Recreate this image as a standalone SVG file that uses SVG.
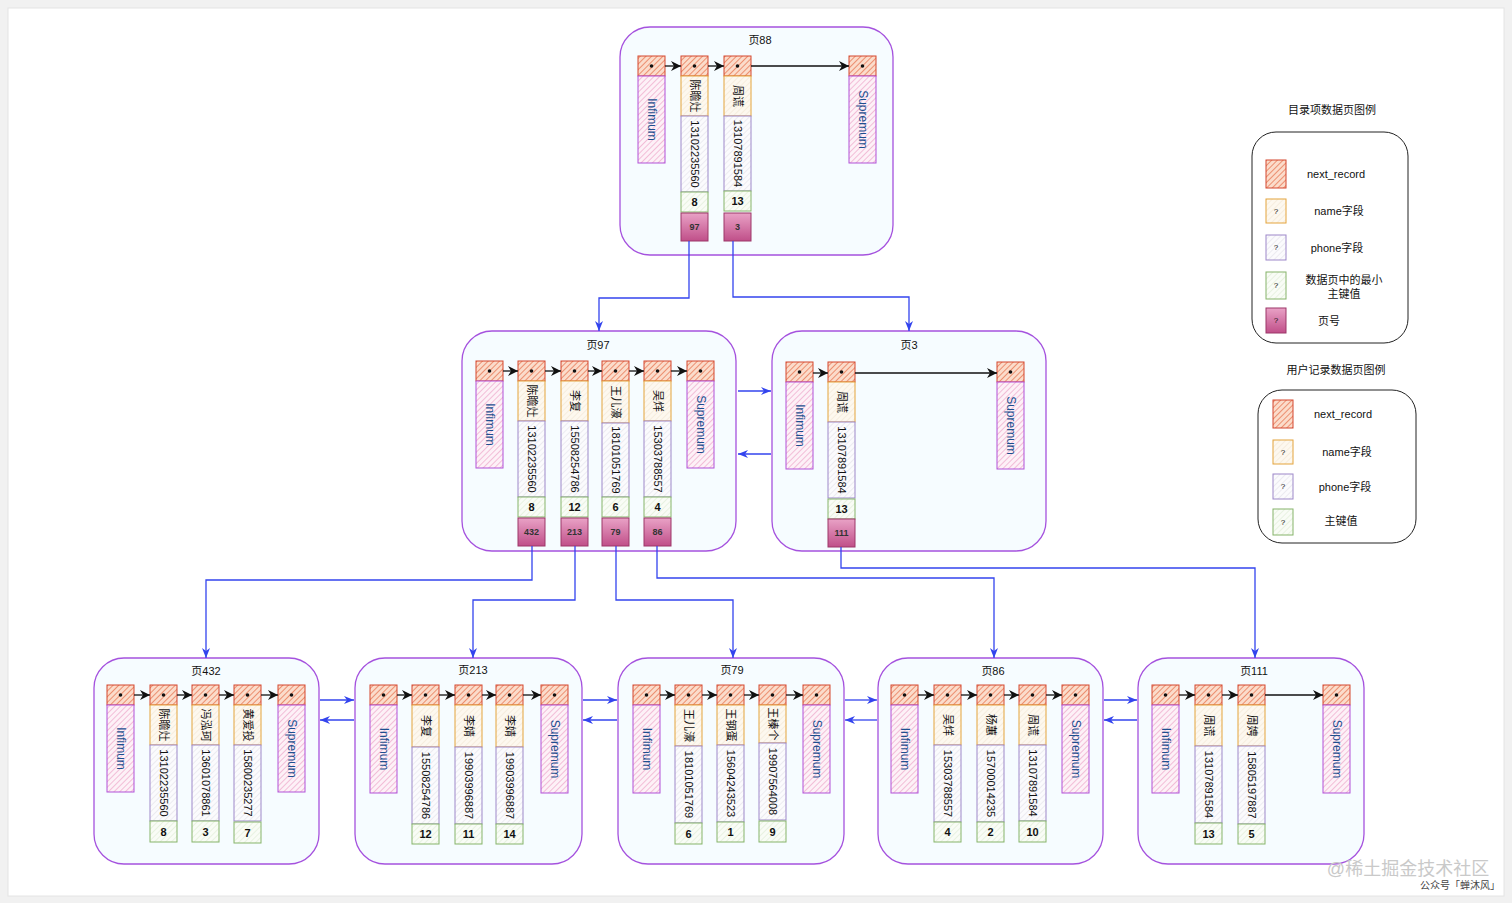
<svg xmlns="http://www.w3.org/2000/svg" width="1512" height="903" viewBox="0 0 1512 903">
<defs>
<pattern id="hRed" patternUnits="userSpaceOnUse" width="4" height="4" patternTransform="rotate(45)"><rect width="4" height="4" fill="#fbdccb"/><line x1="0" y1="0" x2="0" y2="4" stroke="#e4653f" stroke-width="1.3"/></pattern>
<pattern id="hPink" patternUnits="userSpaceOnUse" width="4" height="4" patternTransform="rotate(45)"><rect width="4" height="4" fill="#fdf1f7"/><line x1="0" y1="0" x2="0" y2="4" stroke="#e88ab8" stroke-width="1"/></pattern>
<pattern id="hOra" patternUnits="userSpaceOnUse" width="4" height="4" patternTransform="rotate(45)"><rect width="4" height="4" fill="#fdf8ef"/><line x1="0" y1="0" x2="0" y2="4" stroke="#efe2cd" stroke-width="1"/></pattern>
<pattern id="hGry" patternUnits="userSpaceOnUse" width="4" height="4" patternTransform="rotate(45)"><rect width="4" height="4" fill="#fbfbfd"/><line x1="0" y1="0" x2="0" y2="4" stroke="#dedbe6" stroke-width="1"/></pattern>
<pattern id="hGrn" patternUnits="userSpaceOnUse" width="4" height="4" patternTransform="rotate(45)"><rect width="4" height="4" fill="#f9fcf6"/><line x1="0" y1="0" x2="0" y2="4" stroke="#d8e8cc" stroke-width="1"/></pattern>
<linearGradient id="gPn" x1="0" y1="0" x2="0" y2="1"><stop offset="0" stop-color="#e9a2c6"/><stop offset="1" stop-color="#c04f89"/></linearGradient>
<marker id="ab" markerUnits="userSpaceOnUse" markerWidth="10" markerHeight="10" refX="10" refY="5" orient="auto"><path d="M0,0 L10,5 L0,10 L3,5 z" fill="#111"/></marker>
<marker id="au" markerUnits="userSpaceOnUse" markerWidth="10" markerHeight="10" refX="10" refY="5" orient="auto"><path d="M0,1 L10,5 L0,9 L3,5 z" fill="#3344ee"/></marker>
<style>
text{font-family:"Liberation Sans","Noto Sans CJK SC",sans-serif;}
.pg{fill:#f6fcff;stroke:#a552de;stroke-width:1.3}
.hd{fill:url(#hRed);stroke:#d4472e;stroke-width:1}
.inf{fill:url(#hPink);stroke:#b150d8;stroke-width:1}
.nm{fill:url(#hOra);stroke:#e4a43c;stroke-width:1}
.ph{fill:url(#hGry);stroke:#9d88c9;stroke-width:1}
.ky{fill:url(#hGrn);stroke:#86b46a;stroke-width:1}
.pn{fill:url(#gPn);stroke:#9c3668;stroke-width:1}
.dot{fill:#111}
.ttl{font-size:11px;text-anchor:middle;fill:#111}
.v{font-size:11px;text-anchor:middle;dominant-baseline:central;fill:#111}
.iv{font-size:12px;text-anchor:middle;dominant-baseline:central;fill:#1d4f8f}
.k{font-size:11px;font-weight:bold;text-anchor:middle;dominant-baseline:central;fill:#111}
.p{font-size:9px;font-weight:bold;text-anchor:middle;dominant-baseline:central;fill:#333}
.lt{font-size:11px;text-anchor:middle;fill:#111}
.lg{fill:#fff;stroke:#222;stroke-width:1}
.q{font-size:8px;text-anchor:middle;dominant-baseline:central;fill:#111}
.ba{fill:none;stroke:#111;stroke-width:1.3;marker-end:url(#ab)}
.bu{fill:none;stroke:#3344ee;stroke-width:1.3;marker-end:url(#au)}
</style>
</defs>
<rect x="0" y="0" width="1512" height="903" fill="#f1f1f1"/>
<rect x="8" y="8" width="1496" height="888" fill="#ffffff" stroke="#e4e4e4"/>

<!-- Page 88 -->
<g id="page88">
<rect class="pg" x="620" y="27" width="273" height="228" rx="30"/>
<text class="ttl" x="760" y="44">页88</text>
<rect class="hd" x="638" y="56" width="27" height="20"/><circle class="dot" cx="651.5" cy="66" r="1.8"/>
<rect class="inf" x="638" y="76" width="27" height="87"/><text class="iv" transform="translate(651.5,119.5) rotate(90)">Infimum</text>
<rect class="hd" x="681" y="56" width="27" height="20"/><circle class="dot" cx="694.5" cy="66" r="1.8"/>
<rect class="nm" x="681" y="76" width="27" height="40"/><text class="v" transform="translate(694.5,96) rotate(90)">陈瞻灶</text>
<rect class="ph" x="681" y="116" width="27" height="76"/><text class="v" transform="translate(694.5,154) rotate(90)">13102235560</text>
<rect class="ky" x="681" y="192" width="27" height="20"/><text class="k" x="694.5" y="202">8</text>
<rect class="pn" x="681" y="213" width="27" height="28"/><text class="p" x="694.5" y="227">97</text>
<rect class="hd" x="724" y="56" width="27" height="20"/><circle class="dot" cx="737.5" cy="66" r="1.8"/>
<rect class="nm" x="724" y="76" width="27" height="40"/><text class="v" transform="translate(737.5,96) rotate(90)">周谎</text>
<rect class="ph" x="724" y="116" width="27" height="75"/><text class="v" transform="translate(737.5,153.5) rotate(90)">13107891584</text>
<rect class="ky" x="724" y="191" width="27" height="20"/><text class="k" x="737.5" y="201">13</text>
<rect class="pn" x="724" y="213" width="27" height="28"/><text class="p" x="737.5" y="227">3</text>
<rect class="hd" x="849" y="56" width="27" height="20"/><circle class="dot" cx="862.5" cy="66" r="1.8"/>
<rect class="inf" x="849" y="76" width="27" height="87"/><text class="iv" transform="translate(862.5,119.5) rotate(90)">Supremum</text>
<path class="ba" d="M665,66 H681"/><path class="ba" d="M708,66 H724"/><path class="ba" d="M751,66 H849"/>
</g>

<!-- Page 97 -->
<g id="page97">
<rect class="pg" x="462" y="331" width="274" height="220" rx="30"/>
<text class="ttl" x="598" y="349">页97</text>
<rect class="hd" x="476" y="361" width="27" height="20"/><circle class="dot" cx="489.5" cy="371" r="1.8"/>
<rect class="inf" x="476" y="381" width="27" height="87"/><text class="iv" transform="translate(489.5,424.5) rotate(90)">Infimum</text>
<rect class="hd" x="518" y="361" width="27" height="20"/><circle class="dot" cx="531.5" cy="371" r="1.8"/>
<rect class="nm" x="518" y="381" width="27" height="40"/><text class="v" transform="translate(531.5,401) rotate(90)">陈瞻灶</text>
<rect class="ph" x="518" y="421" width="27" height="76"/><text class="v" transform="translate(531.5,459) rotate(90)">13102235560</text>
<rect class="ky" x="518" y="497" width="27" height="20"/><text class="k" x="531.5" y="507">8</text>
<rect class="pn" x="518" y="518" width="27" height="28"/><text class="p" x="531.5" y="532">432</text>
<rect class="hd" x="561" y="361" width="27" height="20"/><circle class="dot" cx="574.5" cy="371" r="1.8"/>
<rect class="nm" x="561" y="381" width="27" height="40"/><text class="v" transform="translate(574.5,401) rotate(90)">李复</text>
<rect class="ph" x="561" y="421" width="27" height="76"/><text class="v" transform="translate(574.5,459) rotate(90)">15508254786</text>
<rect class="ky" x="561" y="497" width="27" height="20"/><text class="k" x="574.5" y="507">12</text>
<rect class="pn" x="561" y="518" width="27" height="28"/><text class="p" x="574.5" y="532">213</text>
<rect class="hd" x="602" y="361" width="27" height="20"/><circle class="dot" cx="615.5" cy="371" r="1.8"/>
<rect class="nm" x="602" y="381" width="27" height="42"/><text class="v" transform="translate(615.5,402) rotate(90)">王儿濠</text>
<rect class="ph" x="602" y="423" width="27" height="74"/><text class="v" transform="translate(615.5,460) rotate(90)">18101051769</text>
<rect class="ky" x="602" y="497" width="27" height="20"/><text class="k" x="615.5" y="507">6</text>
<rect class="pn" x="602" y="518" width="27" height="28"/><text class="p" x="615.5" y="532">79</text>
<rect class="hd" x="644" y="361" width="27" height="20"/><circle class="dot" cx="657.5" cy="371" r="1.8"/>
<rect class="nm" x="644" y="381" width="27" height="40"/><text class="v" transform="translate(657.5,401) rotate(90)">吴烊</text>
<rect class="ph" x="644" y="421" width="27" height="76"/><text class="v" transform="translate(657.5,459) rotate(90)">15303788557</text>
<rect class="ky" x="644" y="497" width="27" height="20"/><text class="k" x="657.5" y="507">4</text>
<rect class="pn" x="644" y="518" width="27" height="28"/><text class="p" x="657.5" y="532">86</text>
<rect class="hd" x="687" y="361" width="27" height="20"/><circle class="dot" cx="700.5" cy="371" r="1.8"/>
<rect class="inf" x="687" y="381" width="27" height="87"/><text class="iv" transform="translate(700.5,424.5) rotate(90)">Supremum</text>
<path class="ba" d="M503,371 H518"/><path class="ba" d="M545,371 H561"/><path class="ba" d="M588,371 H602"/><path class="ba" d="M629,371 H644"/><path class="ba" d="M671,371 H687"/>
</g>

<!-- Page 3 -->
<g id="page3">
<rect class="pg" x="772" y="331" width="274" height="220" rx="30"/>
<text class="ttl" x="909" y="349">页3</text>
<rect class="hd" x="786" y="362" width="27" height="20"/><circle class="dot" cx="799.5" cy="372" r="1.8"/>
<rect class="inf" x="786" y="382" width="27" height="87"/><text class="iv" transform="translate(799.5,425.5) rotate(90)">Infimum</text>
<rect class="hd" x="828" y="362" width="27" height="20"/><circle class="dot" cx="841.5" cy="372" r="1.8"/>
<rect class="nm" x="828" y="382" width="27" height="40"/><text class="v" transform="translate(841.5,402) rotate(90)">周谎</text>
<rect class="ph" x="828" y="422" width="27" height="76"/><text class="v" transform="translate(841.5,460) rotate(90)">13107891584</text>
<rect class="ky" x="828" y="499" width="27" height="20"/><text class="k" x="841.5" y="509">13</text>
<rect class="pn" x="828" y="519" width="27" height="28"/><text class="p" x="841.5" y="533">111</text>
<rect class="hd" x="997" y="362" width="27" height="20"/><circle class="dot" cx="1010.5" cy="372" r="1.8"/>
<rect class="inf" x="997" y="382" width="27" height="87"/><text class="iv" transform="translate(1010.5,425.5) rotate(90)">Supremum</text>
<path class="ba" d="M813,373 H828"/><path class="ba" d="M855,373 H997"/>
</g>

<!-- Page 432 -->
<g id="page432">
<rect class="pg" x="94" y="658" width="225" height="206" rx="30"/>
<text class="ttl" x="206" y="675">页432</text>
<rect class="hd" x="107" y="685" width="27" height="20"/><circle class="dot" cx="120.5" cy="695" r="1.8"/>
<rect class="inf" x="107" y="705" width="27" height="87"/><text class="iv" transform="translate(120.5,748.5) rotate(90)">Infimum</text>
<rect class="hd" x="150" y="685" width="27" height="20"/><circle class="dot" cx="163.5" cy="695" r="1.8"/>
<rect class="nm" x="150" y="705" width="27" height="40"/><text class="v" transform="translate(163.5,725) rotate(90)">陈瞻灶</text>
<rect class="ph" x="150" y="745" width="27" height="76"/><text class="v" transform="translate(163.5,783) rotate(90)">13102235560</text>
<rect class="ky" x="150" y="821" width="27" height="21"/><text class="k" x="163.5" y="831.5">8</text>
<rect class="hd" x="192" y="685" width="27" height="20"/><circle class="dot" cx="205.5" cy="695" r="1.8"/>
<rect class="nm" x="192" y="705" width="27" height="40"/><text class="v" transform="translate(205.5,725) rotate(90)">冯泓珂</text>
<rect class="ph" x="192" y="745" width="27" height="76"/><text class="v" transform="translate(205.5,783) rotate(90)">13601078861</text>
<rect class="ky" x="192" y="821" width="27" height="21"/><text class="k" x="205.5" y="831.5">3</text>
<rect class="hd" x="234" y="685" width="27" height="20"/><circle class="dot" cx="247.5" cy="695" r="1.8"/>
<rect class="nm" x="234" y="705" width="27" height="40"/><text class="v" transform="translate(247.5,725) rotate(90)">黄爱投</text>
<rect class="ph" x="234" y="745" width="27" height="76"/><text class="v" transform="translate(247.5,783) rotate(90)">15800235277</text>
<rect class="ky" x="234" y="822" width="27" height="21"/><text class="k" x="247.5" y="832.5">7</text>
<rect class="hd" x="278" y="685" width="27" height="20"/><circle class="dot" cx="291.5" cy="695" r="1.8"/>
<rect class="inf" x="278" y="705" width="27" height="87"/><text class="iv" transform="translate(291.5,748.5) rotate(90)">Supremum</text>
<path class="ba" d="M134,695 H150"/><path class="ba" d="M177,695 H192"/><path class="ba" d="M219,695 H234"/><path class="ba" d="M261,695 H278"/>
</g>

<!-- Page 213 -->
<g id="page213">
<rect class="pg" x="355" y="658" width="227" height="206" rx="30"/>
<text class="ttl" x="473" y="674">页213</text>
<rect class="hd" x="370" y="685" width="27" height="20"/><circle class="dot" cx="383.5" cy="695" r="1.8"/>
<rect class="inf" x="370" y="705" width="27" height="88"/><text class="iv" transform="translate(383.5,749) rotate(90)">Infimum</text>
<rect class="hd" x="412" y="685" width="27" height="20"/><circle class="dot" cx="425.5" cy="695" r="1.8"/>
<rect class="nm" x="412" y="705" width="27" height="42"/><text class="v" transform="translate(425.5,726) rotate(90)">李复</text>
<rect class="ph" x="412" y="747" width="27" height="77"/><text class="v" transform="translate(425.5,785.5) rotate(90)">15508254786</text>
<rect class="ky" x="412" y="824" width="27" height="20"/><text class="k" x="425.5" y="834">12</text>
<rect class="hd" x="455" y="685" width="27" height="20"/><circle class="dot" cx="468.5" cy="695" r="1.8"/>
<rect class="nm" x="455" y="705" width="27" height="42"/><text class="v" transform="translate(468.5,726) rotate(90)">李婧</text>
<rect class="ph" x="455" y="747" width="27" height="77"/><text class="v" transform="translate(468.5,785.5) rotate(90)">19903996887</text>
<rect class="ky" x="455" y="824" width="27" height="20"/><text class="k" x="468.5" y="834">11</text>
<rect class="hd" x="496" y="685" width="27" height="20"/><circle class="dot" cx="509.5" cy="695" r="1.8"/>
<rect class="nm" x="496" y="705" width="27" height="42"/><text class="v" transform="translate(509.5,726) rotate(90)">李婧</text>
<rect class="ph" x="496" y="747" width="27" height="77"/><text class="v" transform="translate(509.5,785.5) rotate(90)">19903996887</text>
<rect class="ky" x="496" y="824" width="27" height="20"/><text class="k" x="509.5" y="834">14</text>
<rect class="hd" x="541" y="685" width="27" height="20"/><circle class="dot" cx="554.5" cy="695" r="1.8"/>
<rect class="inf" x="541" y="705" width="27" height="88"/><text class="iv" transform="translate(554.5,749) rotate(90)">Supremum</text>
<path class="ba" d="M397,695 H412"/><path class="ba" d="M439,695 H455"/><path class="ba" d="M482,695 H496"/><path class="ba" d="M523,695 H541"/>
</g>

<!-- Page 79 -->
<g id="page79">
<rect class="pg" x="618" y="658" width="226" height="206" rx="30"/>
<text class="ttl" x="732" y="674">页79</text>
<rect class="hd" x="633" y="685" width="27" height="20"/><circle class="dot" cx="646.5" cy="695" r="1.8"/>
<rect class="inf" x="633" y="705" width="27" height="88"/><text class="iv" transform="translate(646.5,749) rotate(90)">Infimum</text>
<rect class="hd" x="675" y="685" width="27" height="20"/><circle class="dot" cx="688.5" cy="695" r="1.8"/>
<rect class="nm" x="675" y="705" width="27" height="41"/><text class="v" transform="translate(688.5,725.5) rotate(90)">王儿濠</text>
<rect class="ph" x="675" y="746" width="27" height="77"/><text class="v" transform="translate(688.5,784.5) rotate(90)">18101051769</text>
<rect class="ky" x="675" y="823" width="27" height="21"/><text class="k" x="688.5" y="833.5">6</text>
<rect class="hd" x="717" y="685" width="27" height="20"/><circle class="dot" cx="730.5" cy="695" r="1.8"/>
<rect class="nm" x="717" y="705" width="27" height="40"/><text class="v" transform="translate(730.5,725) rotate(90)">王钢蛋</text>
<rect class="ph" x="717" y="745" width="27" height="77"/><text class="v" transform="translate(730.5,783.5) rotate(90)">15604243523</text>
<rect class="ky" x="717" y="822" width="27" height="20"/><text class="k" x="730.5" y="832">1</text>
<rect class="hd" x="759" y="685" width="27" height="20"/><circle class="dot" cx="772.5" cy="695" r="1.8"/>
<rect class="nm" x="759" y="705" width="27" height="38"/><text class="v" transform="translate(772.5,724) rotate(90)">王榛个</text>
<rect class="ph" x="759" y="743" width="27" height="77"/><text class="v" transform="translate(772.5,781.5) rotate(90)">19907564008</text>
<rect class="ky" x="759" y="821" width="27" height="21"/><text class="k" x="772.5" y="831.5">9</text>
<rect class="hd" x="803" y="685" width="27" height="20"/><circle class="dot" cx="816.5" cy="695" r="1.8"/>
<rect class="inf" x="803" y="705" width="27" height="88"/><text class="iv" transform="translate(816.5,749) rotate(90)">Supremum</text>
<path class="ba" d="M660,695 H675"/><path class="ba" d="M702,695 H717"/><path class="ba" d="M744,695 H759"/><path class="ba" d="M786,695 H803"/>
</g>

<!-- Page 86 -->
<g id="page86">
<rect class="pg" x="878" y="658" width="225" height="206" rx="30"/>
<text class="ttl" x="993" y="675">页86</text>
<rect class="hd" x="891" y="685" width="27" height="20"/><circle class="dot" cx="904.5" cy="695" r="1.8"/>
<rect class="inf" x="891" y="705" width="27" height="88"/><text class="iv" transform="translate(904.5,749) rotate(90)">Infimum</text>
<rect class="hd" x="934" y="685" width="27" height="20"/><circle class="dot" cx="947.5" cy="695" r="1.8"/>
<rect class="nm" x="934" y="705" width="27" height="40"/><text class="v" transform="translate(947.5,725) rotate(90)">吴烊</text>
<rect class="ph" x="934" y="745" width="27" height="77"/><text class="v" transform="translate(947.5,783.5) rotate(90)">15303788557</text>
<rect class="ky" x="934" y="822" width="27" height="20"/><text class="k" x="947.5" y="832">4</text>
<rect class="hd" x="977" y="685" width="27" height="20"/><circle class="dot" cx="990.5" cy="695" r="1.8"/>
<rect class="nm" x="977" y="705" width="27" height="40"/><text class="v" transform="translate(990.5,725) rotate(90)">杨蕙</text>
<rect class="ph" x="977" y="745" width="27" height="77"/><text class="v" transform="translate(990.5,783.5) rotate(90)">15700014235</text>
<rect class="ky" x="977" y="822" width="27" height="20"/><text class="k" x="990.5" y="832">2</text>
<rect class="hd" x="1019" y="685" width="27" height="20"/><circle class="dot" cx="1032.5" cy="695" r="1.8"/>
<rect class="nm" x="1019" y="705" width="27" height="40"/><text class="v" transform="translate(1032.5,725) rotate(90)">周谎</text>
<rect class="ph" x="1019" y="745" width="27" height="76"/><text class="v" transform="translate(1032.5,783) rotate(90)">13107891584</text>
<rect class="ky" x="1019" y="821" width="27" height="21"/><text class="k" x="1032.5" y="831.5">10</text>
<rect class="hd" x="1062" y="685" width="27" height="20"/><circle class="dot" cx="1075.5" cy="695" r="1.8"/>
<rect class="inf" x="1062" y="705" width="27" height="88"/><text class="iv" transform="translate(1075.5,749) rotate(90)">Supremum</text>
<path class="ba" d="M918,695 H934"/><path class="ba" d="M961,695 H977"/><path class="ba" d="M1004,695 H1019"/><path class="ba" d="M1046,695 H1062"/>
</g>

<!-- Page 111 -->
<g id="page111">
<rect class="pg" x="1138" y="658" width="226" height="206" rx="30"/>
<text class="ttl" x="1254" y="675">页111</text>
<rect class="hd" x="1152" y="685" width="27" height="20"/><circle class="dot" cx="1165.5" cy="695" r="1.8"/>
<rect class="inf" x="1152" y="705" width="27" height="88"/><text class="iv" transform="translate(1165.5,749) rotate(90)">Infimum</text>
<rect class="hd" x="1195" y="685" width="27" height="20"/><circle class="dot" cx="1208.5" cy="695" r="1.8"/>
<rect class="nm" x="1195" y="705" width="27" height="41"/><text class="v" transform="translate(1208.5,725.5) rotate(90)">周谎</text>
<rect class="ph" x="1195" y="746" width="27" height="77"/><text class="v" transform="translate(1208.5,784.5) rotate(90)">13107891584</text>
<rect class="ky" x="1195" y="823" width="27" height="21"/><text class="k" x="1208.5" y="833.5">13</text>
<rect class="hd" x="1238" y="685" width="27" height="20"/><circle class="dot" cx="1251.5" cy="695" r="1.8"/>
<rect class="nm" x="1238" y="705" width="27" height="41"/><text class="v" transform="translate(1251.5,725.5) rotate(90)">周娉</text>
<rect class="ph" x="1238" y="746" width="27" height="78"/><text class="v" transform="translate(1251.5,785) rotate(90)">15805197887</text>
<rect class="ky" x="1238" y="824" width="27" height="20"/><text class="k" x="1251.5" y="834">5</text>
<rect class="hd" x="1323" y="685" width="27" height="20"/><circle class="dot" cx="1336.5" cy="695" r="1.8"/>
<rect class="inf" x="1323" y="705" width="27" height="88"/><text class="iv" transform="translate(1336.5,749) rotate(90)">Supremum</text>
<path class="ba" d="M1179,695 H1195"/><path class="ba" d="M1222,695 H1238"/><path class="ba" d="M1265,695 H1323"/>
</g>

<!-- Connectors -->
<g id="connectors">
<path class="bu" d="M689,241 V298 H599 V331"/>
<path class="bu" d="M733,241 V297 H909 V331"/>
<path class="bu" d="M532,546 V580 H206 V658"/>
<path class="bu" d="M575,546 V600 H473 V658"/>
<path class="bu" d="M616,546 V600 H733 V658"/>
<path class="bu" d="M657,546 V578 H994 V658"/>
<path class="bu" d="M841,547 V568 H1255 V658"/>
<path class="bu" d="M738,391 H771"/>
<path class="bu" d="M771,454 H738"/>
<path class="bu" d="M320,700 H354"/>
<path class="bu" d="M354,720 H320"/>
<path class="bu" d="M583,700 H617"/>
<path class="bu" d="M617,720 H583"/>
<path class="bu" d="M845,700 H877"/>
<path class="bu" d="M877,720 H845"/>
<path class="bu" d="M1104,700 H1137"/>
<path class="bu" d="M1137,720 H1104"/>
</g>

<!-- Legend: directory pages -->
<g id="legend-dir">
<text class="lt" x="1332" y="114">目录项数据页图例</text>
<rect class="lg" x="1252" y="132" width="156" height="211" rx="24"/>
<rect class="hd" x="1266" y="160" width="20" height="28"/>
<text class="lt" x="1336" y="178">next_record</text>
<rect class="nm" x="1266" y="199" width="20" height="24"/><text class="q" x="1276" y="211">?</text>
<text class="lt" x="1339" y="215">name字段</text>
<rect class="ph" x="1266" y="235" width="20" height="25"/><text class="q" x="1276" y="247.5">?</text>
<text class="lt" x="1337" y="252">phone字段</text>
<rect class="ky" x="1266" y="272" width="20" height="27"/><text class="q" x="1276" y="285.5">?</text>
<text class="lt" x="1344" y="284">数据页中的最小</text>
<text class="lt" x="1344" y="298">主键值</text>
<rect class="pn" x="1266" y="308" width="20" height="25"/><text class="q" x="1276" y="320.5">?</text>
<text class="lt" x="1329" y="325">页号</text>
</g>

<!-- Legend: user record pages -->
<g id="legend-user">
<text class="lt" x="1336" y="374">用户记录数据页图例</text>
<rect class="lg" x="1258" y="390" width="158" height="153" rx="24"/>
<rect class="hd" x="1273" y="400" width="20" height="28"/>
<text class="lt" x="1343" y="418">next_record</text>
<rect class="nm" x="1273" y="440" width="20" height="24"/><text class="q" x="1283" y="452">?</text>
<text class="lt" x="1347" y="456">name字段</text>
<rect class="ph" x="1273" y="474" width="20" height="25"/><text class="q" x="1283" y="486.5">?</text>
<text class="lt" x="1345" y="491">phone字段</text>
<rect class="ky" x="1273" y="509" width="20" height="26"/><text class="q" x="1283" y="522">?</text>
<text class="lt" x="1341" y="525">主键值</text>
</g>

<g id="watermark">
<text x="1408" y="875" font-size="18" text-anchor="middle" fill="#c9c9c9">@稀土掘金技术社区</text>
<text x="1500" y="889" font-size="10" text-anchor="end" fill="#444">公众号「蝉沐风」</text>
</g>
</svg>
